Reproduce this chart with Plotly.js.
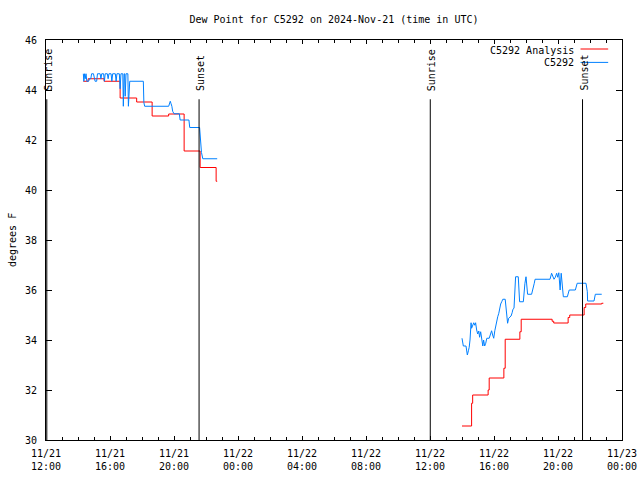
<!DOCTYPE html>
<html>
<head>
<meta charset="utf-8">
<script src="https://cdn.plot.ly/plotly-3.0.1.min.js"></script>
<style>html,body{margin:0;padding:0;background:#fff;}#chart{width:640px;height:480px;}</style>
</head>
<body>
<div id="chart"></div>
<script>
// ---- data ----
const chartTitle = "Dew Point for C5292 on 2024-Nov-21 (time in UTC)";
const yTitle = "degrees F";
const analysisName = "C5292 Analysis";
const obsName = "C5292";

const analysisTimes = [
  "2024-11-21 14:20","2024-11-21 14:38","2024-11-21 15:38","2024-11-21 16:38","2024-11-21 17:40",
  "2024-11-21 18:38","2024-11-21 19:40","2024-11-21 20:38","2024-11-21 21:38","2024-11-21 22:38",
  "2024-11-21 22:42",
  "2024-11-22 02:00",
  "2024-11-22 14:00","2024-11-22 14:36","2024-11-22 14:40","2024-11-22 15:38","2024-11-22 15:42",
  "2024-11-22 16:37","2024-11-22 16:42","2024-11-22 17:37","2024-11-22 17:42","2024-11-22 19:38",
  "2024-11-22 19:44","2024-11-22 20:38","2024-11-22 20:44","2024-11-22 21:38","2024-11-22 21:44",
  "2024-11-22 22:44","2024-11-22 22:50"
];
const analysisValues = [
  44.35,44.45,44.35,43.68,43.52,
  42.96,43.04,41.56,40.9,40.35,
  40.35,
  null,
  30.56,31.47,31.8,32.0,32.48,
  32.87,34.03,34.33,34.83,34.75,
  34.68,34.9,35.0,35.3,35.44,
  35.47,35.47
];

const obsTimes = [
  "2024-11-21 14:20","2024-11-21 14:22","2024-11-21 14:24","2024-11-21 14:27","2024-11-21 14:30",
  "2024-11-21 14:33","2024-11-21 14:40","2024-11-21 14:43","2024-11-21 14:48","2024-11-21 14:51",
  "2024-11-21 14:58","2024-11-21 15:01","2024-11-21 15:04","2024-11-21 15:10","2024-11-21 15:13",
  "2024-11-21 15:23","2024-11-21 15:26","2024-11-21 15:29","2024-11-21 15:36","2024-11-21 15:39",
  "2024-11-21 15:42","2024-11-21 15:50","2024-11-21 15:53","2024-11-21 15:56","2024-11-21 16:04",
  "2024-11-21 16:07","2024-11-21 16:10","2024-11-21 16:20","2024-11-21 16:23","2024-11-21 16:26",
  "2024-11-21 16:35","2024-11-21 16:38","2024-11-21 16:41","2024-11-21 16:48","2024-11-21 16:50",
  "2024-11-21 16:53","2024-11-21 16:55","2024-11-21 16:57","2024-11-21 17:00","2024-11-21 17:07",
  "2024-11-21 17:09","2024-11-21 17:14","2024-11-21 18:05","2024-11-21 18:07","2024-11-21 18:10",
  "2024-11-21 19:40","2024-11-21 19:43","2024-11-21 19:46","2024-11-21 19:49","2024-11-21 19:52",
  "2024-11-21 19:55","2024-11-21 20:00","2024-11-21 20:20","2024-11-21 20:23","2024-11-21 20:56",
  "2024-11-21 20:59","2024-11-21 21:36","2024-11-21 21:39","2024-11-21 21:43","2024-11-21 21:48",
  "2024-11-21 22:42",
  "2024-11-22 02:00",
  "2024-11-22 14:00","2024-11-22 14:03","2024-11-22 14:05","2024-11-22 14:15","2024-11-22 14:18",
  "2024-11-22 14:20","2024-11-22 14:24","2024-11-22 14:27","2024-11-22 14:30","2024-11-22 14:34",
  "2024-11-22 14:36","2024-11-22 14:40","2024-11-22 14:44","2024-11-22 14:48","2024-11-22 14:51",
  "2024-11-22 14:55","2024-11-22 14:59","2024-11-22 15:03","2024-11-22 15:06","2024-11-22 15:10",
  "2024-11-22 15:14","2024-11-22 15:18","2024-11-22 15:21","2024-11-22 15:25","2024-11-22 15:29",
  "2024-11-22 15:33","2024-11-22 15:42","2024-11-22 15:48","2024-11-22 15:51","2024-11-22 15:55",
  "2024-11-22 15:59","2024-11-22 16:03","2024-11-22 16:06","2024-11-22 16:10","2024-11-22 16:14",
  "2024-11-22 16:18","2024-11-22 16:21","2024-11-22 16:25","2024-11-22 16:29","2024-11-22 16:33",
  "2024-11-22 16:42","2024-11-22 16:45","2024-11-22 16:49","2024-11-22 16:51","2024-11-22 16:55",
  "2024-11-22 16:59","2024-11-22 17:04","2024-11-22 17:08","2024-11-22 17:11","2024-11-22 17:15",
  "2024-11-22 17:18","2024-11-22 17:21","2024-11-22 17:31","2024-11-22 17:35","2024-11-22 17:36",
  "2024-11-22 17:50","2024-11-22 17:52","2024-11-22 17:56","2024-11-22 18:00","2024-11-22 18:03",
  "2024-11-22 18:06","2024-11-22 18:21","2024-11-22 18:25","2024-11-22 18:31","2024-11-22 18:34",
  "2024-11-22 19:30","2024-11-22 19:36","2024-11-22 19:40","2024-11-22 19:45","2024-11-22 19:50",
  "2024-11-22 19:55","2024-11-22 19:59","2024-11-22 20:03","2024-11-22 20:08","2024-11-22 20:12",
  "2024-11-22 20:16","2024-11-22 20:20","2024-11-22 20:35","2024-11-22 20:42","2024-11-22 21:05",
  "2024-11-22 21:12","2024-11-22 21:45","2024-11-22 21:50","2024-11-22 21:51","2024-11-22 22:15",
  "2024-11-22 22:20","2024-11-22 22:44"
];
const obsValues = [
  44.65,44.35,44.65,44.45,44.65,
  44.35,44.35,44.45,44.45,44.65,
  44.65,44.45,44.35,44.35,44.65,
  44.65,44.45,44.65,44.65,44.35,
  44.65,44.65,44.45,44.65,44.65,
  44.35,44.65,44.65,44.35,44.65,
  44.65,44.05,44.65,44.65,43.35,
  44.65,44.65,43.75,44.65,44.65,
  43.35,44.35,44.35,43.5,43.35,
  43.35,43.45,43.55,43.45,43.35,
  43.15,43.05,43.05,42.8,42.8,
  42.5,42.5,42.05,41.5,41.25,
  41.25,
  null,
  34.07,33.89,33.76,33.76,33.6,
  33.4,33.57,33.71,34.0,34.69,
  34.47,34.6,34.69,34.59,34.69,
  34.4,34.24,34.36,34.11,34.33,
  34.07,33.76,34.0,33.76,33.87,
  34.07,34.07,34.24,34.37,34.2,
  34.07,34.37,34.56,34.73,34.93,
  35.07,35.27,35.44,35.53,35.63,
  35.63,35.27,35.07,34.67,34.87,
  34.93,34.96,35.09,35.23,35.27,
  35.87,36.53,36.53,35.87,35.53,
  35.53,36.0,36.27,36.53,36.24,
  35.83,35.83,36.07,36.27,36.43,
  36.43,36.67,36.53,36.43,36.51,
  36.67,36.51,36.69,36.0,36.67,
  36.2,35.73,35.73,36.0,36.0,
  36.27,36.27,35.93,35.56,35.56,
  35.83,35.83
];

const eventTimes = ["2024-11-21 12:03","2024-11-21 21:34","2024-11-22 12:01","2024-11-22 21:32"];
const eventLabels = ["Sunrise","Sunset","Sunrise","Sunset"];

const xRange = ["2024-11-21 12:00","2024-11-23 00:00"];
const yRange = [30, 46];

// ---- styles ----
const FONT = "DejaVu Sans Mono, Liberation Mono, monospace";
const RED = "#ff0000";
const BLUE = "#0080ff";

const traces = [
  {x: analysisTimes, y: analysisValues, name: analysisName, type: "scatter", mode: "lines",
   line: {color: RED, width: 1, shape: "hv"}, connectgaps: false, showlegend: false},
  {x: obsTimes, y: obsValues, name: obsName, type: "scatter", mode: "lines",
   line: {color: BLUE, width: 1}, connectgaps: false, showlegend: false}
];

const shapes = [];
const annotations = [];
const lineTop = 43.63;
eventTimes.forEach((t, i) => {
  shapes.push({type: "line", xref: "x", yref: "y", x0: t, x1: t, y0: yRange[0], y1: lineTop,
               line: {color: "#000", width: 1}});
  annotations.push({text: eventLabels[i], xref: "x", yref: "y", x: t, y: 43.92,
                    textangle: -90, xanchor: "center", yanchor: "bottom", showarrow: false,
                    xshift: 1, borderpad: 0,
                    font: {family: FONT, size: 10, color: "#000"}});
});

// custom legend: text on the left, line sample on the right
const legendItems = [
  {name: analysisName, color: RED, ty: 0.973, ly: 0.9775},
  {name: obsName, color: BLUE, ty: 0.945, ly: 0.944}
];
legendItems.forEach(it => {
  annotations.push({text: it.name, xref: "paper", yref: "paper", x: 0.918, y: it.ty,
                    xanchor: "right", yanchor: "middle", showarrow: false, borderpad: 0,
                    font: {family: FONT, size: 10, color: "#000"}});
  shapes.push({type: "line", xref: "paper", yref: "paper", x0: 0.928, x1: 0.976, y0: it.ly, y1: it.ly,
               line: {color: it.color, width: 1}});
});

annotations.push({text: yTitle, xref: "paper", yref: "paper", x: -0.059, y: 0.5, textangle: -90,
                  xanchor: "center", yanchor: "middle", showarrow: false,
                  font: {family: FONT, size: 10, color: "#000"}});

const layout = {
  width: 640, height: 480,
  margin: {l: 46, r: 18, t: 40, b: 40},
  paper_bgcolor: "#fff", plot_bgcolor: "#fff",
  font: {family: FONT, size: 10, color: "#000"},
  title: {text: chartTitle, x: 0.5, xref: "paper", y: 0.96, yref: "container", yanchor: "middle",
          font: {family: FONT, size: 10, color: "#000"}},
  showlegend: false,
  xaxis: {type: "date", range: xRange, tick0: "2024-11-21 12:00", dtick: 4*3600000,
          tickformat: "%m/%d<br>%H:%M", ticks: "inside", ticklen: 4, tickcolor: "#000",
          minor: {dtick: 3600000, ticks: "inside", ticklen: 3, tickcolor: "#000"},
          showgrid: false, zeroline: false, showline: true, linecolor: "#000", linewidth: 1,
          mirror: "ticks", ticklabelstandoff: 4,
          tickfont: {family: FONT, size: 10, color: "#000"}},
  yaxis: {range: yRange, dtick: 2, tick0: 30, ticks: "inside", ticklen: 6, tickcolor: "#000",
          showgrid: false, zeroline: false, showline: true, linecolor: "#000", linewidth: 1,
          mirror: "ticks", ticklabelstandoff: 6,
          tickfont: {family: FONT, size: 10, color: "#000"}},
  shapes: shapes,
  annotations: annotations
};

Plotly.newPlot("chart", traces, layout, {staticPlot: true, displayModeBar: false});
</script>
</body>
</html>
